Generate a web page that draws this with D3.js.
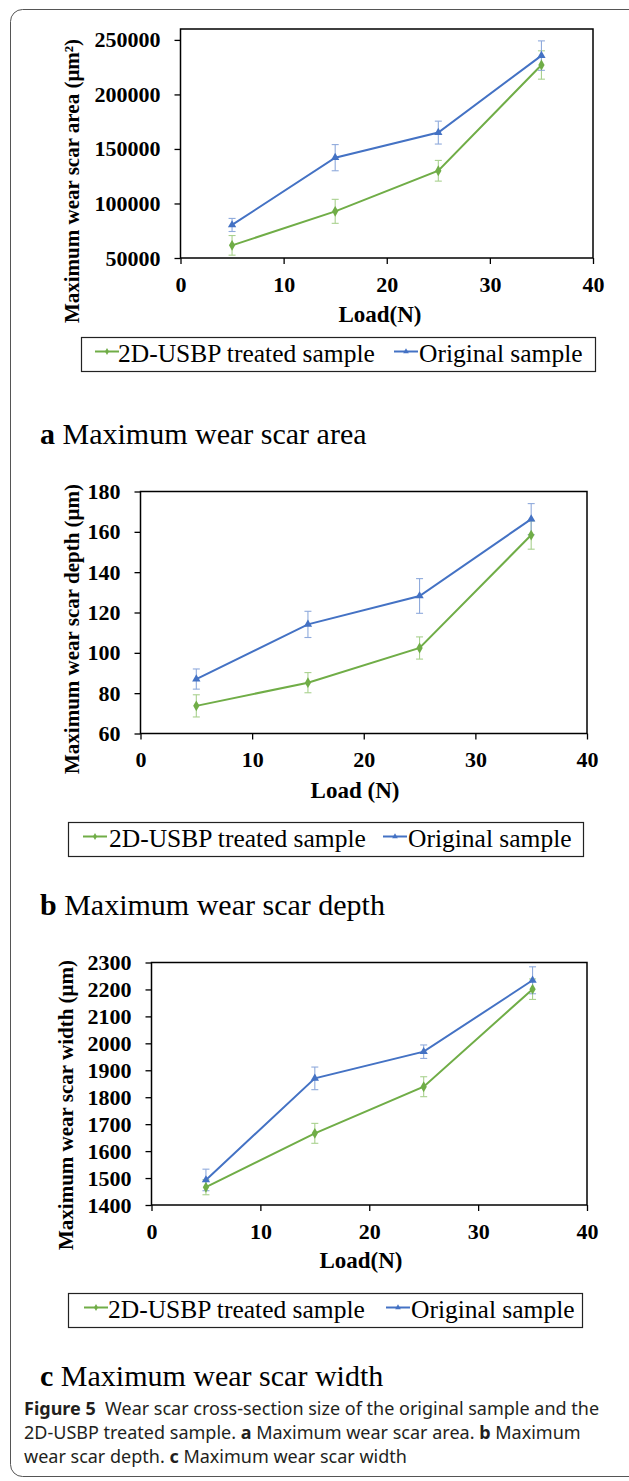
<!DOCTYPE html>
<html>
<head>
<meta charset="utf-8">
<script src="https://cdn.jsdelivr.net/npm/d3@7/dist/d3.min.js"></script>
<style>
  html, body { margin: 0; padding: 0; background: #fff; }
  svg { display: block; }
</style>
</head>
<body>
<svg id="chart" width="629" height="1481"></svg>
<script>
// ---------------- DATA ----------------
const loads = [5, 15, 25, 35];
const xTicks = [0, 10, 20, 30, 40];
const seriesNames = ["2D-USBP treated sample", "Original sample"];

// (a) Maximum wear scar area (μm²)
const areaTreated = [61600, 92800, 130000, 227000];
const areaTreatedErr = [9000, 11000, 9500, 13000];
const areaOriginal = [80300, 142000, 165000, 235600];
const areaOriginalErr = [6000, 12000, 10500, 13500];
const areaTicks = [50000, 100000, 150000, 200000, 250000];

// (b) Maximum wear scar depth (μm)
const depthTreated = [73.7, 85.2, 102.4, 158.4];
const depthTreatedErr = [5.5, 5, 5.5, 7];
const depthOriginal = [87, 114.1, 128.2, 166.3];
const depthOriginalErr = [5, 6.5, 8.6, 7.7];
const depthTicks = [60, 80, 100, 120, 140, 160, 180];

// (c) Maximum wear scar width (μm)
const widthTreated = [1466, 1666, 1839, 2201];
const widthTreatedErr = [28, 37, 37, 38];
const widthOriginal = [1493, 1870, 1969, 2234];
const widthOriginalErr = [40, 42, 25, 50];
const widthTicks = [1400, 1500, 1600, 1700, 1800, 1900, 2000, 2100, 2200, 2300];

const panelCaptions = [
  ["a", " Maximum wear scar area"],
  ["b", " Maximum wear scar depth"],
  ["c", " Maximum wear scar width"]
];

// ---------------- STYLE ----------------
const GREEN = "#70AD47", BLUE = "#4472C4";
const GREEN_ERR = "#A9D18E", BLUE_ERR = "#8FAADC";
const SERIF = "'Liberation Serif','Times New Roman',Times,serif";
const SANS = "'Noto Sans','Open Sans',sans-serif";

const svg = d3.select("#chart");
svg.append("rect").attr("width", 629).attr("height", 1481).attr("fill", "#fff");

// outer rounded frame
svg.append("rect")
  .attr("x", 10.5).attr("y", 9.5).attr("width", 640).attr("height", 1467)
  .attr("rx", 12).attr("fill", "none").attr("stroke", "#555").attr("stroke-width", 1);

const diamond = d3.symbol().type(d3.symbolDiamond);
const triangle = d3.symbol().type(d3.symbolTriangle);

function drawPanel(cfg) {
  const g = svg.append("g");
  const x = d3.scaleLinear().domain([0, 40]).range([cfg.left, cfg.right]);
  const y = d3.scaleLinear().domain(cfg.yDomain).range([cfg.bottom, cfg.top]);

  // axes
  const yAxis = d3.axisLeft(y).tickValues(cfg.yTicks).tickSize(6).tickPadding(14).tickFormat(d3.format("d"));
  const xAxis = d3.axisBottom(x).tickValues(xTicks).tickSize(6).tickPadding(12).tickFormat(d3.format("d"));
  const ya = g.append("g").attr("transform", `translate(${cfg.left},0)`).call(yAxis);
  const xa = g.append("g").attr("transform", `translate(0,${cfg.bottom})`).call(xAxis);
  [ya, xa].forEach(a => {
    a.attr("font-family", null).attr("font-size", null);
    a.select(".domain").remove();
    a.selectAll("line").attr("stroke", "#000").attr("stroke-width", 1.3);
    a.selectAll("text").attr("fill", "#000").style("font-family", SERIF)
      .style("font-weight", "bold").style("font-size", "22px");
  });

  // plot box
  g.append("rect")
    .attr("x", cfg.left).attr("y", cfg.top)
    .attr("width", cfg.right - cfg.left).attr("height", cfg.bottom - cfg.top)
    .attr("fill", "none").attr("stroke", "#000").attr("stroke-width", 1.5);

  const series = [
    { vals: cfg.treated, err: cfg.treatedErr, color: GREEN, ecolor: GREEN_ERR, sym: diamond, size: 34 },
    { vals: cfg.original, err: cfg.originalErr, color: BLUE, ecolor: BLUE_ERR, sym: triangle, size: 30 }
  ];

  // error bars
  series.forEach(s => {
    const eg = g.append("g").attr("stroke", s.ecolor).attr("stroke-width", 1.1);
    loads.forEach((L, i) => {
      const cx = x(L), y1 = y(s.vals[i] + s.err[i]), y0 = y(s.vals[i] - s.err[i]);
      eg.append("line").attr("x1", cx).attr("x2", cx).attr("y1", y1).attr("y2", y0);
      eg.append("line").attr("x1", cx - 3.5).attr("x2", cx + 3.5).attr("y1", y1).attr("y2", y1);
      eg.append("line").attr("x1", cx - 3.5).attr("x2", cx + 3.5).attr("y1", y0).attr("y2", y0);
    });
  });

  // lines + markers
  series.forEach(s => {
    const line = d3.line().x((d, i) => x(loads[i])).y(d => y(d));
    g.append("path").datum(s.vals).attr("d", line)
      .attr("fill", "none").attr("stroke", s.color).attr("stroke-width", 2);
    g.selectAll(null).data(s.vals).enter().append("path")
      .attr("d", s.sym.size(s.size)())
      .attr("transform", (d, i) => `translate(${x(loads[i])},${y(d)})`)
      .attr("fill", s.color);
  });

  // axis titles
  g.append("text")
    .attr("transform", `translate(${cfg.yLabelX},${cfg.yLabelY}) rotate(-90)`)
    .attr("text-anchor", "middle").attr("dy", "0.35em")
    .style("font-family", SERIF).style("font-weight", "bold").style("font-size", "21px")
    .text(cfg.yLabel);
  g.append("text")
    .attr("x", cfg.xLabelX).attr("y", cfg.xLabelY)
    .attr("text-anchor", "middle")
    .style("font-family", SERIF).style("font-weight", "bold").style("font-size", "23px")
    .text(cfg.xLabel);

  // legend
  const lg = cfg.legend;
  svg.append("rect")
    .attr("x", lg.x0).attr("y", lg.y0).attr("width", lg.x1 - lg.x0).attr("height", lg.y1 - lg.y0)
    .attr("fill", "#fff").attr("stroke", "#222").attr("stroke-width", 1.2);
  const cy = (lg.y0 + lg.y1) / 2;
  const items = [
    { name: seriesNames[0], color: GREEN, sym: diamond, size: 14, lx: lg.g0, tx: lg.gt },
    { name: seriesNames[1], color: BLUE, sym: triangle, size: 14, lx: lg.b0, tx: lg.bt }
  ];
  items.forEach(it => {
    svg.append("line").attr("x1", it.lx).attr("x2", it.lx + 24).attr("y1", cy - 3).attr("y2", cy - 3)
      .attr("stroke", it.color).attr("stroke-width", 2);
    svg.append("path").attr("d", it.sym.size(it.size)())
      .attr("transform", `translate(${it.lx + 12},${cy - 3})`).attr("fill", it.color);
    svg.append("text").attr("x", it.tx).attr("y", cy + 7)
      .style("font-family", SERIF).style("font-size", "25.5px").attr("fill", "#000")
      .text(it.name);
  });

  // panel caption
  const cap = svg.append("text").attr("x", cfg.capX).attr("y", cfg.capY)
    .style("font-family", SERIF).style("font-size", "30px").attr("fill", "#000");
  cap.append("tspan").style("font-weight", "bold").text(cfg.caption[0]);
  cap.append("tspan").text(cfg.caption[1]);
}

drawPanel({
  left: 180.5, right: 593, top: 29, bottom: 258,
  yDomain: [50000, 260000], yTicks: areaTicks,
  treated: areaTreated, treatedErr: areaTreatedErr,
  original: areaOriginal, originalErr: areaOriginalErr,
  yLabel: "Maximum wear scar area (μm²)", yLabelX: 72, yLabelY: 181,
  xLabel: "Load(N)", xLabelX: 380, xLabelY: 322,
  legend: { x0: 81.5, x1: 595.5, y0: 337.5, y1: 371.5, g0: 95, gt: 118, b0: 394, bt: 419 },
  caption: panelCaptions[0], capX: 40, capY: 444
});

drawPanel({
  left: 140.5, right: 587, top: 491.5, bottom: 733.5,
  yDomain: [60, 180], yTicks: depthTicks,
  treated: depthTreated, treatedErr: depthTreatedErr,
  original: depthOriginal, originalErr: depthOriginalErr,
  yLabel: "Maximum wear scar depth (μm)", yLabelX: 72, yLabelY: 629,
  xLabel: "Load (N)", xLabelX: 355, xLabelY: 798,
  legend: { x0: 68.5, x1: 583.5, y0: 822.5, y1: 856.5, g0: 83, gt: 109, b0: 383, bt: 408 },
  caption: panelCaptions[1], capX: 40, capY: 915
});

drawPanel({
  left: 151.5, right: 587, top: 962.5, bottom: 1205,
  yDomain: [1400, 2300], yTicks: widthTicks,
  treated: widthTreated, treatedErr: widthTreatedErr,
  original: widthOriginal, originalErr: widthOriginalErr,
  yLabel: "Maximum wear scar width (μm)", yLabelX: 66, yLabelY: 1105,
  xLabel: "Load(N)", xLabelX: 361, xLabelY: 1268,
  legend: { x0: 68.5, x1: 582.5, y0: 1293.5, y1: 1327.5, g0: 84, gt: 108, b0: 386, bt: 411 },
  caption: panelCaptions[2], capX: 40, capY: 1386
});

// figure caption
const figLines = [
  [["Figure 5", true], ["  Wear scar cross-section size of the original sample and the", false]],
  [["2D-USBP treated sample. ", false], ["a", true], [" Maximum wear scar area. ", false], ["b", true], [" Maximum", false]],
  [["wear scar depth. ", false], ["c", true], [" Maximum wear scar width", false]]
];
figLines.forEach((ln, i) => {
  const t = svg.append("text").attr("x", 24).attr("y", 1415 + i * 24)
    .style("font-family", SANS).style("font-size", "18px").attr("fill", "#231f20")
    .attr("xml:space", "preserve").style("white-space", "pre");
  ln.forEach(([s, b]) => t.append("tspan").style("font-weight", b ? "bold" : "normal").text(s));
});
</script>
</body>
</html>
